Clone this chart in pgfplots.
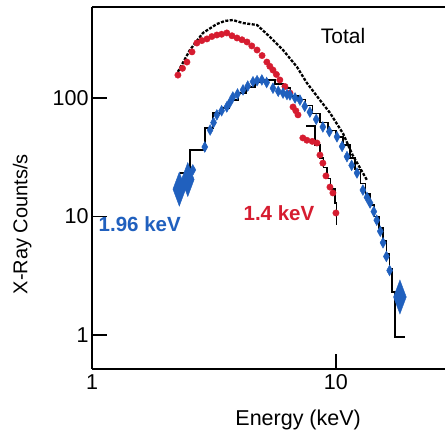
\documentclass[border=0pt]{standalone}
\usepackage{pgfplots}
\pgfplotsset{compat=1.18}
\usepackage{fontspec}
\setmainfont{Liberation Sans}

\definecolor{specred}{RGB}{214,28,48}
\definecolor{specblue}{RGB}{32,96,190}

\begin{document}
\begin{tikzpicture}
\begin{axis}[
    scale only axis,
    width=353pt, height=362pt,
    xmode=log, ymode=log,
    xmin=1, xmax=28, ymin=0.516, ymax=586,
    axis x line*=box, axis y line*=left,
    axis line style={-, line width=1.6pt},
    xtick={1,10}, ytick={1,10,100},
    xticklabels={1,10}, yticklabels={1,10,100},
    xminorticks=false, yminorticks=false,
    xtick pos=left, ytick pos=left,
    tick align=inside,
    major tick length=15pt,
    tick style={line width=1.6pt, black},
    ticklabel style={font=\fontsize{21.5}{24}\selectfont},
    xticklabel style={yshift=-2pt},
    xlabel={Energy (keV)},
    ylabel={X-Ray Counts/s},
    xlabel style={font=\fontsize{21.5}{24}\selectfont, at={(axis description cs:0.584,-0.141)}, anchor=center},
    ylabel style={font=\fontsize{20}{24}\selectfont, at={(axis description cs:-0.198,0.40)}, anchor=center},
    clip=false,
]
% 1.4 keV data
\addplot[only marks, mark=*, mark size=3.2pt, color=specred] coordinates {
 (2.25,156) (2.35,178) (2.45,201) (2.57,245) (2.69,291) (2.82,305) (2.96,315)
 (3.10,330) (3.25,340) (3.40,345) (3.57,354) (3.75,335) (3.93,321) (4.12,310)
 (4.32,297) (4.52,275) (4.75,254) (4.98,228) (5.21,201) (5.36,185) (5.52,172)
 (5.70,158) (5.89,142) (6.18,125) (6.48,110) (6.67,84) (6.85,78) (6.99,72)
 (7.32,46) (7.60,44) (8.00,43) (8.36,41.7) (8.60,33) (8.84,28.2) (9.10,22)
 (9.45,17.7) (9.72,15.8) (10.0,10.7)
};
% 1.96 keV data
\addplot[only marks, mark=diamond*, mark size=4pt, color=specblue, mark options={yscale=1.35}] coordinates {
 (2.59,24.7) (2.90,38.6) (3.05,53.7) (3.15,62) (3.25,72) (3.40,78) (3.57,84)
 (3.68,92) (3.78,102) (3.95,108) (4.16,117) (4.35,126) (4.57,137) (4.75,140)
 (4.97,142) (5.20,135) (5.52,121) (5.80,114) (6.07,110) (6.30,107) (6.48,106)
 (6.80,100) (7.12,96) (7.45,85) (7.82,76) (8.30,66) (8.84,57) (9.40,52)
 (10.1,47) (10.6,39) (11.1,32) (11.6,27) (12.2,23.3) (12.9,16.7) (13.4,14.5)
 (13.8,13.0) (14.3,11) (14.7,9.3) (15.2,7.5) (15.6,6.0) (16.1,4.6) (16.6,3.5)
};
\addplot[only marks, mark=diamond*, mark size=8.5pt, color=specblue, mark options={yscale=2}] coordinates {
 (2.28,17.0) (2.47,20.5) (18.3,2.09)
};
% total
\addplot[black, line width=2.3pt, dash pattern=on 3pt off 1.5pt] coordinates {
 (2.25,166) (2.52,254) (2.85,354) (3.25,421) (3.51,447) (3.78,455) (4.16,429)
 (4.75,413) (5.37,327) (6.07,254) (6.92,183) (7.60,134) (8.60,96) (9.45,75)
 (10.7,50) (11.7,33) (13.4,20.3)
};
% model steps, 1.96 keV
\addplot[black, line width=1.5pt, const plot] coordinates {
 (2.30,23.3) (2.52,36.4) (2.90,55.8) (3.13,75) (3.41,82) (3.67,96) (3.97,110)
 (4.28,124) (4.66,137) (5.12,142) (5.62,131) (6.07,121) (6.5,104) (7.0,97)
 (7.5,86) (8.0,74) (8.6,62) (9.3,53) (10.0,47) (10.7,40) (11.4,31) (12.0,25)
 (12.6,19) (13.2,15.5) (13.8,12.5) (14.4,10) (15.0,8) (15.6,6.2) (16.1,4.8)
 (16.6,3.6) (17.0,2.3) (17.5,0.96) (19.2,0.96)
};
% model steps, 1.4 keV
\addplot[black, line width=1.5pt, const plot] coordinates {
 (7.53,58) (8.2,40) (8.6,31) (8.9,26) (9.2,21) (9.5,17) (9.9,13) (10.05,8.5)
};
\node[font=\fontsize{21}{24}\selectfont] at (axis cs:10.7,335) {Total};
\node[font=\fontsize{20.5}{24}\selectfont\bfseries, text=specblue] at (axis cs:1.57,8.65) {1.96 keV};
\node[font=\fontsize{20.5}{24}\selectfont\bfseries, text=specred] at (axis cs:5.84,10.7) {1.4 keV};
\end{axis}
\pgfresetboundingbox
\path[use as bounding box] (-92pt,-66pt) rectangle (353pt,369pt);
\end{tikzpicture}
\end{document}
